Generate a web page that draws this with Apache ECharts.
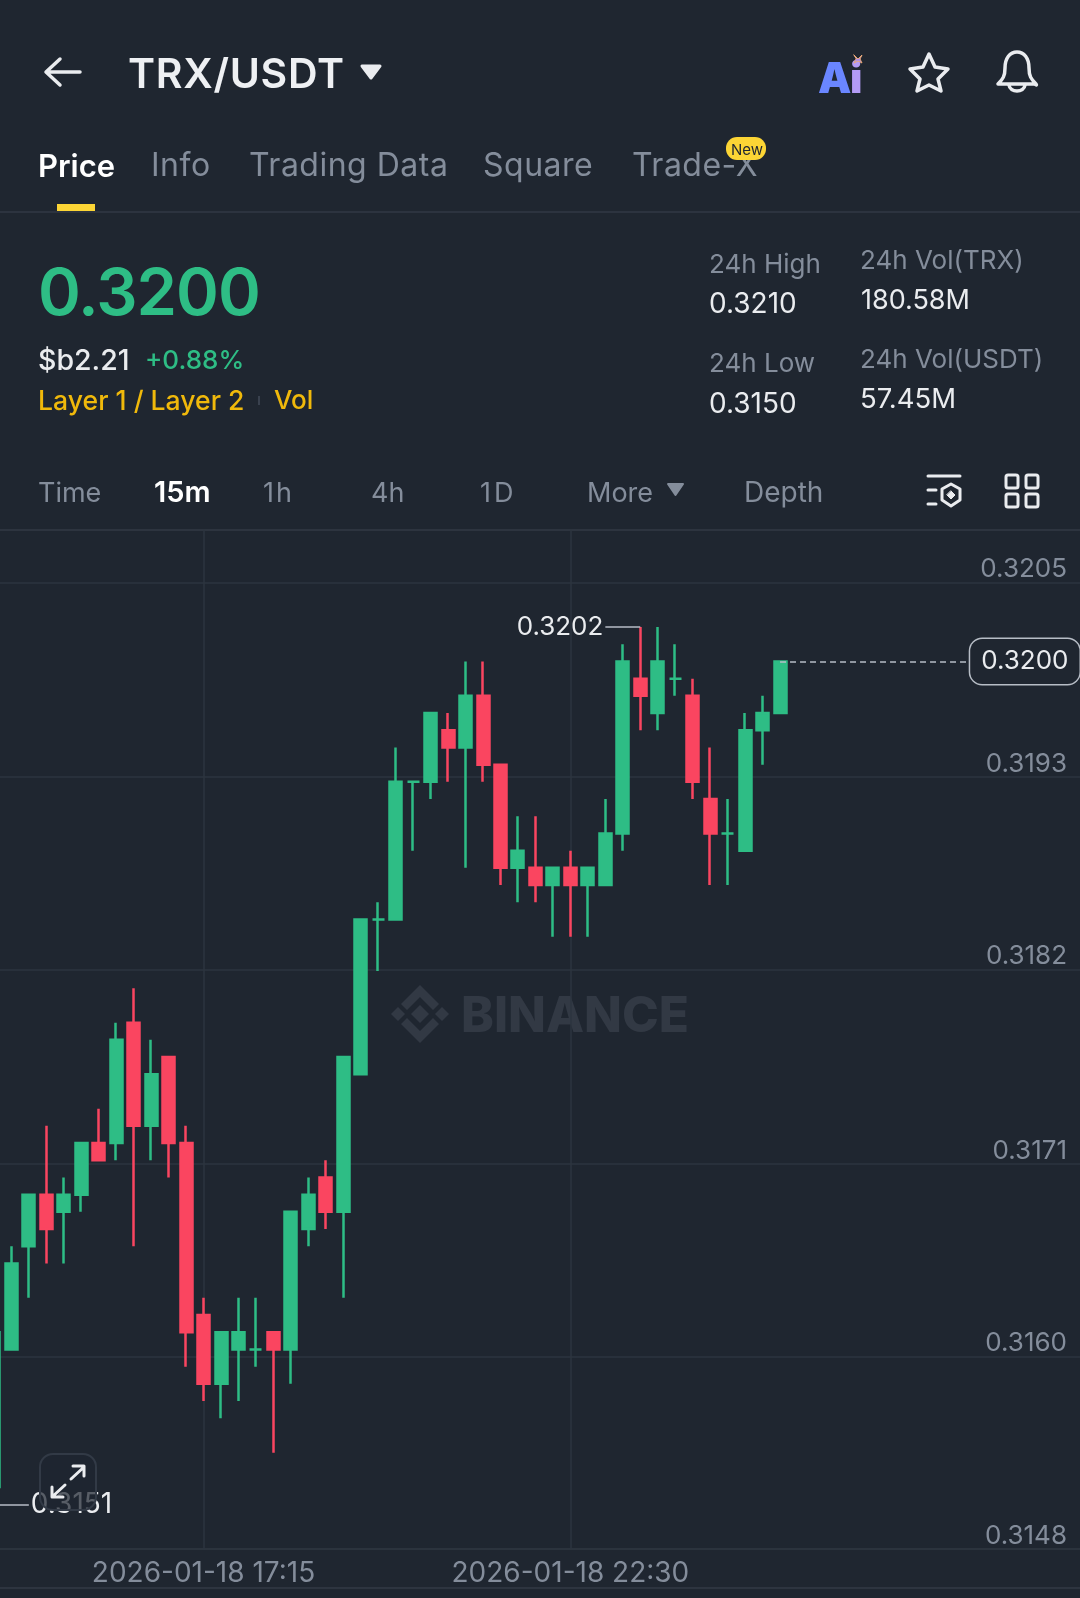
<!DOCTYPE html>
<html>
<head>
<meta charset="utf-8">
<title>TRX/USDT</title>
<script src="https://cdn.jsdelivr.net/npm/echarts@6/dist/echarts.min.js"></script>
<style>
  html, body { margin: 0; padding: 0; background: #1f2630; }
  #page { position: relative; width: 1080px; height: 1598px; overflow: hidden; background: #1f2630; font-family: Inter, sans-serif; }
  #chart { position: absolute; left: 0; top: 0; width: 1080px; height: 1598px; }
  .t { position: absolute; white-space: nowrap; line-height: 1; transform: translateY(-50%); color: #848d9b; font-size: 28px; }
  .w { color: #eaecef; }
  .g { color: #2ebd85; }
  .y { color: #f0b90b; }
  svg.ic { position: absolute; left: 0; top: 0; pointer-events: none; }
</style>
</head>
<body>
<div id="page">
  <div id="chart"></div>

  <span class="t" style="left:128px;top:73px;font-size:41px;letter-spacing:0.7px;font-weight:600;color:#eef0f3">TRX/USDT</span>

  <span class="t" style="left:38px;top:165px;font-size:31px;font-weight:600;color:#fff">Price</span>
  <span class="t" style="left:151px;top:165px;font-size:32px;letter-spacing:0.5px">Info</span>
  <span class="t" style="left:249px;top:165px;font-size:32px;letter-spacing:0.5px">Trading Data</span>
  <span class="t" style="left:483px;top:165px;font-size:32px;letter-spacing:0.5px">Square</span>
  <span class="t" style="left:632px;top:165px;font-size:32px;letter-spacing:0.5px">Trade-X</span>
  <div style="position:absolute;left:726px;top:137px;width:40px;height:23px;border-radius:11px;background:#fcd535"></div>
  <span class="t" style="left:731px;top:149px;font-size:15px;color:#1f2630">New</span>
  <div style="position:absolute;left:57px;top:204px;width:38px;height:7px;background:#fcd535"></div>
  <div style="position:absolute;left:0;top:211px;width:1080px;height:2px;background:#2c333f"></div>

  <span class="t g" style="left:38px;top:291px;font-size:65px;letter-spacing:-1px;font-weight:600">0.3200</span>
  <span class="t w" style="left:38px;top:360px;font-size:28.5px;font-weight:500">$b2.21</span>
  <span class="t g" style="left:145px;top:360px;font-size:26px;font-weight:500">+0.88%</span>
  <span class="t y" style="left:38px;top:400px;font-size:26.6px;font-weight:500">Layer 1 / Layer 2</span>
  <div style="position:absolute;left:258px;top:396px;width:2px;height:9px;background:#39414e"></div>
  <span class="t y" style="left:274px;top:400px;font-size:26px;font-weight:500">Vol</span>

  <span class="t" style="left:709px;top:264px;font-size:26px">24h High</span>
  <span class="t w" style="left:709px;top:303px;font-size:28px">0.3210</span>
  <span class="t" style="left:709px;top:363px;font-size:26px">24h Low</span>
  <span class="t w" style="left:709px;top:403px;font-size:28px">0.3150</span>
  <span class="t" style="left:860px;top:260px;font-size:26px">24h Vol(TRX)</span>
  <span class="t w" style="left:861px;top:299px;font-size:27px">180.58M</span>
  <span class="t" style="left:860px;top:359px;font-size:26px">24h Vol(USDT)</span>
  <span class="t w" style="left:860px;top:399px;font-size:27.5px">57.45M</span>

  <span class="t" style="left:38px;top:492px;font-size:27px">Time</span>
  <span class="t" style="left:154px;top:491px;font-size:29px;font-weight:600;color:#fff">15m</span>
  <span class="t" style="left:263px;top:492px;font-size:27px;letter-spacing:2px">1h</span>
  <span class="t" style="left:371px;top:492px;font-size:27px">4h</span>
  <span class="t" style="left:480px;top:492px;font-size:27px;letter-spacing:3px">1D</span>
  <span class="t" style="left:587px;top:492px;font-size:27px">More</span>
  <span class="t" style="left:744px;top:492px;font-size:28px">Depth</span>

  <span class="t" style="left:818px;top:78px;font-size:42px;font-weight:900;color:#6a86ff">A</span>
  <span class="t" style="left:850px;top:78px;font-size:42px;font-weight:900;color:#b39bf5">i</span>

  <svg class="ic" width="1080" height="1598" viewBox="0 0 1080 1598" fill="none" stroke-linecap="round" stroke-linejoin="round">
    <!-- back arrow -->
    <path d="M80 72H47M60 59L46 72L60 85" stroke="#eaecef" stroke-width="3.5"/>
    <!-- symbol and more carets -->
    <path d="M362 66H380L371 78Z" fill="#eaecef" stroke="#eaecef" stroke-width="3"/>
    <path d="M668 484H683L675.5 495Z" fill="#848d9b" stroke="#848d9b" stroke-width="2"/>
    <!-- sparkle -->
    <path d="M854 55L858 59L862 55L860 59L862 63L858 61L854 63L856 59Z" fill="#a98cf0" stroke="#e8a877" stroke-width="1"/>
    <!-- star -->
    <path d="M929 54L935 67L948 69L938 79L941 91L929 85L917 91L920 79L910 69L923 67Z" stroke="#eaecef" stroke-width="3.5"/>
    <!-- bell -->
    <path d="M998 84C1003 79 1005 76 1005 68C1005 58 1010 52 1017 52C1024 52 1029 58 1029 68C1029 76 1031 79 1036 84C1037 86 1036 84 1034 84Z" stroke="#eaecef" stroke-width="3.5"/>
    <path d="M1009 85C1010 93 1024 93 1025 85" stroke="#eaecef" stroke-width="3.5"/>
    <!-- indicator settings -->
    <path d="M928 476H960M928 490H936M928 504H936" stroke="#eaecef" stroke-width="3"/>
    <path d="M951 484L960 489V500L951 506L942 500V489Z" stroke="#eaecef" stroke-width="3"/>
    <path d="M951 491L955 495L951 499L947 495Z" fill="#eaecef" stroke="#eaecef" stroke-width="1"/>
    <!-- layout grid -->
    <rect x="1006" y="475" width="12" height="13" rx="2" stroke="#eaecef" stroke-width="3"/>
    <rect x="1026" y="475" width="12" height="13" rx="2" stroke="#eaecef" stroke-width="3"/>
    <rect x="1006" y="494" width="12" height="13" rx="2" stroke="#eaecef" stroke-width="3"/>
    <rect x="1026" y="494" width="12" height="13" rx="2" stroke="#eaecef" stroke-width="3"/>
    <!-- expand button -->
    <rect x="40" y="1454" width="56" height="56" rx="13" fill="#1f2630" fill-opacity="0.72" stroke="#323a46" stroke-width="2"/>
    <path d="M71 1479L84 1467M73 1466H84V1476M65 1485L52 1497M52 1487V1497H63" stroke="#eaecef" stroke-width="3"/>
  </svg>
</div>

<script>
  // 15m candles, 2026-01-18 14:15 onwards
  var categories = [
    "2026-01-18 14:15", "2026-01-18 14:30", "2026-01-18 14:45", "2026-01-18 15:00",
    "2026-01-18 15:15", "2026-01-18 15:30", "2026-01-18 15:45", "2026-01-18 16:00",
    "2026-01-18 16:15", "2026-01-18 16:30", "2026-01-18 16:45", "2026-01-18 17:00",
    "2026-01-18 17:15", "2026-01-18 17:30", "2026-01-18 17:45", "2026-01-18 18:00",
    "2026-01-18 18:15", "2026-01-18 18:30", "2026-01-18 18:45", "2026-01-18 19:00",
    "2026-01-18 19:15", "2026-01-18 19:30", "2026-01-18 19:45", "2026-01-18 20:00",
    "2026-01-18 20:15", "2026-01-18 20:30", "2026-01-18 20:45", "2026-01-18 21:00",
    "2026-01-18 21:15", "2026-01-18 21:30", "2026-01-18 21:45", "2026-01-18 22:00",
    "2026-01-18 22:15", "2026-01-18 22:30", "2026-01-18 22:45", "2026-01-18 23:00",
    "2026-01-18 23:15", "2026-01-18 23:30", "2026-01-18 23:45", "2026-01-19 00:00",
    "2026-01-19 00:15", "2026-01-19 00:30", "2026-01-19 00:45", "2026-01-19 01:00",
    "2026-01-19 01:15", "2026-01-19 01:30"
  ];
  var openPrices = [
    0.3152, 0.3160, 0.3166, 0.3169, 0.3168, 0.3169, 0.3172, 0.3172, 0.3179, 0.3173,
    0.3177, 0.3172, 0.3162, 0.3158, 0.3160, 0.3160, 0.3161, 0.3160, 0.3167, 0.3170,
    0.3168, 0.3176, 0.3185, 0.3185, 0.3193, 0.3193, 0.3196, 0.3195, 0.3198, 0.3194,
    0.3188, 0.3188, 0.3187, 0.3188, 0.3187, 0.3187, 0.3190, 0.3199, 0.3197, 0.3199,
    0.3198, 0.3192, 0.3190, 0.3189, 0.3196, 0.3197
  ];
  var closePrices = [
    0.3161, 0.3165, 0.3169, 0.3167, 0.3169, 0.3172, 0.3171, 0.3178, 0.3173, 0.3176,
    0.3172, 0.3161, 0.3158, 0.3161, 0.3161, 0.3160, 0.3160, 0.3168, 0.3169, 0.3168,
    0.3177, 0.3185, 0.3185, 0.3193, 0.3193, 0.3197, 0.3195, 0.3198, 0.3194, 0.3188,
    0.3189, 0.3187, 0.3188, 0.3187, 0.3188, 0.3190, 0.3200, 0.3198, 0.3200, 0.3199,
    0.3193, 0.3190, 0.3190, 0.3196, 0.3197, 0.3200
  ];
  var lowPrices = [
    0.3151, 0.3160, 0.3163, 0.3165, 0.3165, 0.3168, 0.3171, 0.3171, 0.3166, 0.3171,
    0.3170, 0.3159, 0.3157, 0.3156, 0.3157, 0.3159, 0.3154, 0.3158, 0.3166, 0.3167,
    0.3163, 0.3176, 0.3182, 0.3185, 0.3189, 0.3192, 0.3193, 0.3188, 0.3193, 0.3187,
    0.3186, 0.3186, 0.3184, 0.3184, 0.3184, 0.3187, 0.3189, 0.3196, 0.3196, 0.3198,
    0.3192, 0.3187, 0.3187, 0.3189, 0.3194, 0.3197
  ];
  var highPrices = [
    0.3161, 0.3166, 0.3169, 0.3173, 0.3170, 0.3172, 0.3174, 0.3179, 0.3181, 0.3178,
    0.3177, 0.3173, 0.3163, 0.3161, 0.3163, 0.3163, 0.3161, 0.3168, 0.3170, 0.3171,
    0.3177, 0.3185, 0.3186, 0.3195, 0.3193, 0.3197, 0.3197, 0.3200, 0.3200, 0.3194,
    0.3191, 0.3191, 0.3188, 0.3189, 0.3188, 0.3192, 0.3201, 0.3202, 0.3202, 0.3201,
    0.3199, 0.3195, 0.3192, 0.3197, 0.3198, 0.3200
  ];
  var priceTicks = [0.31484, 0.31596, 0.31708, 0.31821, 0.31933, 0.32046];
  var labelledTimes = ["2026-01-18 17:15", "2026-01-18 22:30"];
  var lastPrice = 0.32;
  var highMark = 0.3202;
  var lowMark = 0.3151;

  var GREEN = "#2ebd85";
  var RED = "#fa4560";
  var LINE = "#2d343f";
  var TEXT = "#848d9b";
  var FONT = "Inter, sans-serif";
  var WATERMARK = "#323944";

  // empty slots right of the last candle, the axis keeps running to the price labels
  var axisSlots = categories.concat(new Array(18).fill(""));

  function candleData() {
    return categories.map(function (c, i) {
      return [openPrices[i], closePrices[i], lowPrices[i], highPrices[i]];
    });
  }

  function isLabelled(index) {
    return labelledTimes.indexOf(axisSlots[index]) >= 0;
  }

  function watermark() {
    var shapes = [
      [[420, 1005], [429, 1014], [420, 1023], [411, 1014]],
      [[398, 1007], [405, 1014], [398, 1021], [391, 1014]],
      [[442, 1007], [449, 1014], [442, 1021], [435, 1014]],
      [[420, 985], [439, 1004], [433, 1010], [420, 997], [407, 1010], [401, 1004]],
      [[420, 1043], [439, 1024], [433, 1018], [420, 1031], [407, 1018], [401, 1024]]
    ];
    var out = shapes.map(function (points) {
      return { type: "polygon", silent: true, z: 0, shape: { points: points }, style: { fill: WATERMARK } };
    });
    out.push({
      type: "text", silent: true, z: 0, x: 461, y: 1017,
      style: { text: "BINANCE", fill: WATERMARK, fontFamily: FONT, fontWeight: 800, fontSize: 49.5, verticalAlign: "middle" }
    });
    return out;
  }

  function rule(y) {
    return { type: "rect", silent: true, z: 0, shape: { x: 0, y: y, width: 1080, height: 2 }, style: { fill: LINE } };
  }

  function markLabel(color, size) {
    return {
      show: true, position: "end", distance: 2, padding: [4, 0, 0, 0],
      color: color, fontFamily: FONT, fontSize: size, formatter: "{c}"
    };
  }

  var chart = echarts.init(document.getElementById("chart"), null, { renderer: "canvas" });
  chart.setOption({
    animation: false,
    backgroundColor: "#1f2630",
    graphic: { elements: watermark().concat([rule(529), rule(1587)]) },
    grid: { left: -6.1, top: 529, width: 1100.6, height: 1020, outerBoundsMode: "none" },
    xAxis: {
      type: "category",
      data: axisSlots,
      boundaryGap: false,
      axisLine: { lineStyle: { color: LINE, width: 1.5 } },
      axisTick: { show: false },
      axisLabel: {
        interval: function (index) { return isLabelled(index); },
        color: TEXT, fontFamily: FONT, fontSize: 28, margin: 11
      },
      splitLine: {
        show: true,
        interval: function (index) { return isLabelled(index); },
        lineStyle: { color: LINE, width: 1.5 }
      }
    },
    yAxis: {
      type: "value",
      position: "right",
      min: 0.31484,
      max: 0.32077,
      axisLine: { show: false },
      axisTick: { show: false, customValues: priceTicks },
      axisLabel: {
        inside: true,
        customValues: priceTicks,
        margin: 27.5,
        align: "right",
        verticalAlign: "bottom",
        color: TEXT, fontFamily: FONT, fontSize: 26, lineHeight: 26,
        formatter: function (value) { return value.toFixed(4); }
      },
      splitLine: { show: true, lineStyle: { color: LINE, width: 1.5 } }
    },
    series: [{
      type: "candlestick",
      data: candleData(),
      barWidth: 12.5,
      itemStyle: {
        color: GREEN, color0: RED,
        borderColor: GREEN, borderColor0: RED, borderColorDoji: GREEN,
        borderWidth: 2.5
      },
      markLine: {
        silent: true,
        symbol: "none",
        animation: false,
        data: [
          [
            { coord: [37, highMark], value: highMark, lineStyle: { color: "#b7bdc6", width: 1.5, type: "solid" } },
            { coord: [35, highMark], label: markLabel("#eaecef", 26) }
          ],
          [
            { coord: [0, lowMark], value: lowMark, lineStyle: { color: "#b7bdc6", width: 1.5, type: "solid" } },
            { coord: [2, lowMark], label: markLabel("#eaecef", 28) }
          ],
          [
            { coord: [45, lastPrice], value: lastPrice.toFixed(4), lineStyle: { color: "#b7bdc6", width: 1.5, type: [6, 4] } },
            {
              coord: [56, lastPrice],
              label: {
                show: true, position: "end", distance: -2, formatter: "{c}",
                color: "#eaecef", fontFamily: FONT, fontSize: 26,
                backgroundColor: "#1f2630", borderColor: "#b7bdc6", borderWidth: 1.5, borderRadius: 12,
                padding: [11, 11, 8, 11]
              }
            }
          ]
        ]
      }
    }]
  });
</script>
</body>
</html>
